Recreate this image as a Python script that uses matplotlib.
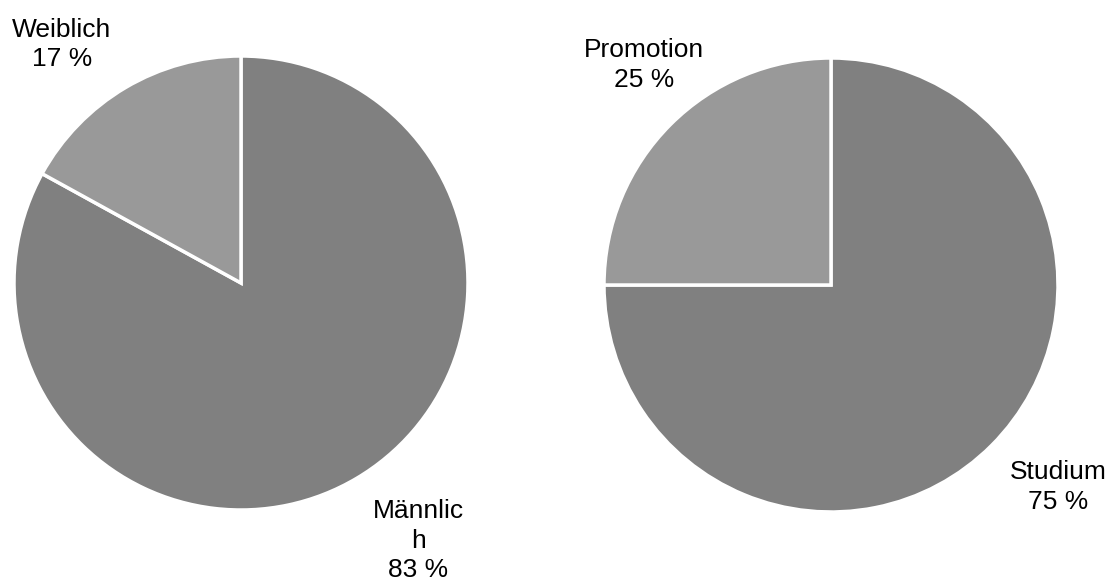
import matplotlib
matplotlib.use("Agg")
import matplotlib.pyplot as plt

plt.rcParams['font.family'] = ['Liberation Sans', 'DejaVu Sans']

# Geschlecht
GenderNames = ["Männlic\nh", "Weiblich"]
GenderPct = [83, 17]

# Abschluss
DegreeNames = ["Studium", "Promotion"]
DegreePct = [75, 25]

Colours = ["#808080", "#999999"]

# Label positions (pie data units, radius 1)
GenderLabelPos = [(0.78, -1.135), (-0.79, 1.05)]
DegreeLabelPos = [(1.0, -0.89), (-0.824, 0.969)]

fig = plt.figure(figsize=(11.15, 5.81), dpi=100)
W, H = 1115.0, 581.0

def draw_pie(cx, cy, r, values, names, labelpos):
    ax = fig.add_axes([(cx - r) / W, (H - cy - r) / H, 2 * r / W, 2 * r / H])
    ax.pie(values, colors=Colours, startangle=90, counterclock=False,
           wedgeprops=dict(edgecolor="white", linewidth=2.5))
    ax.set_xlim(-1, 1)
    ax.set_ylim(-1, 1)
    ax.set_aspect("auto")
    ax.axis("off")
    for (x, y), name, v in zip(labelpos, names, values):
        ax.text(x, y, "%s\n%d %%" % (name, v), ha="center", va="center",
                fontsize=19, linespacing=1.28, clip_on=False)

draw_pie(241, 283, 227, GenderPct, GenderNames, GenderLabelPos)
draw_pie(831, 285, 227, DegreePct, DegreeNames, DegreeLabelPos)

fig.savefig("out.png", dpi=100)
